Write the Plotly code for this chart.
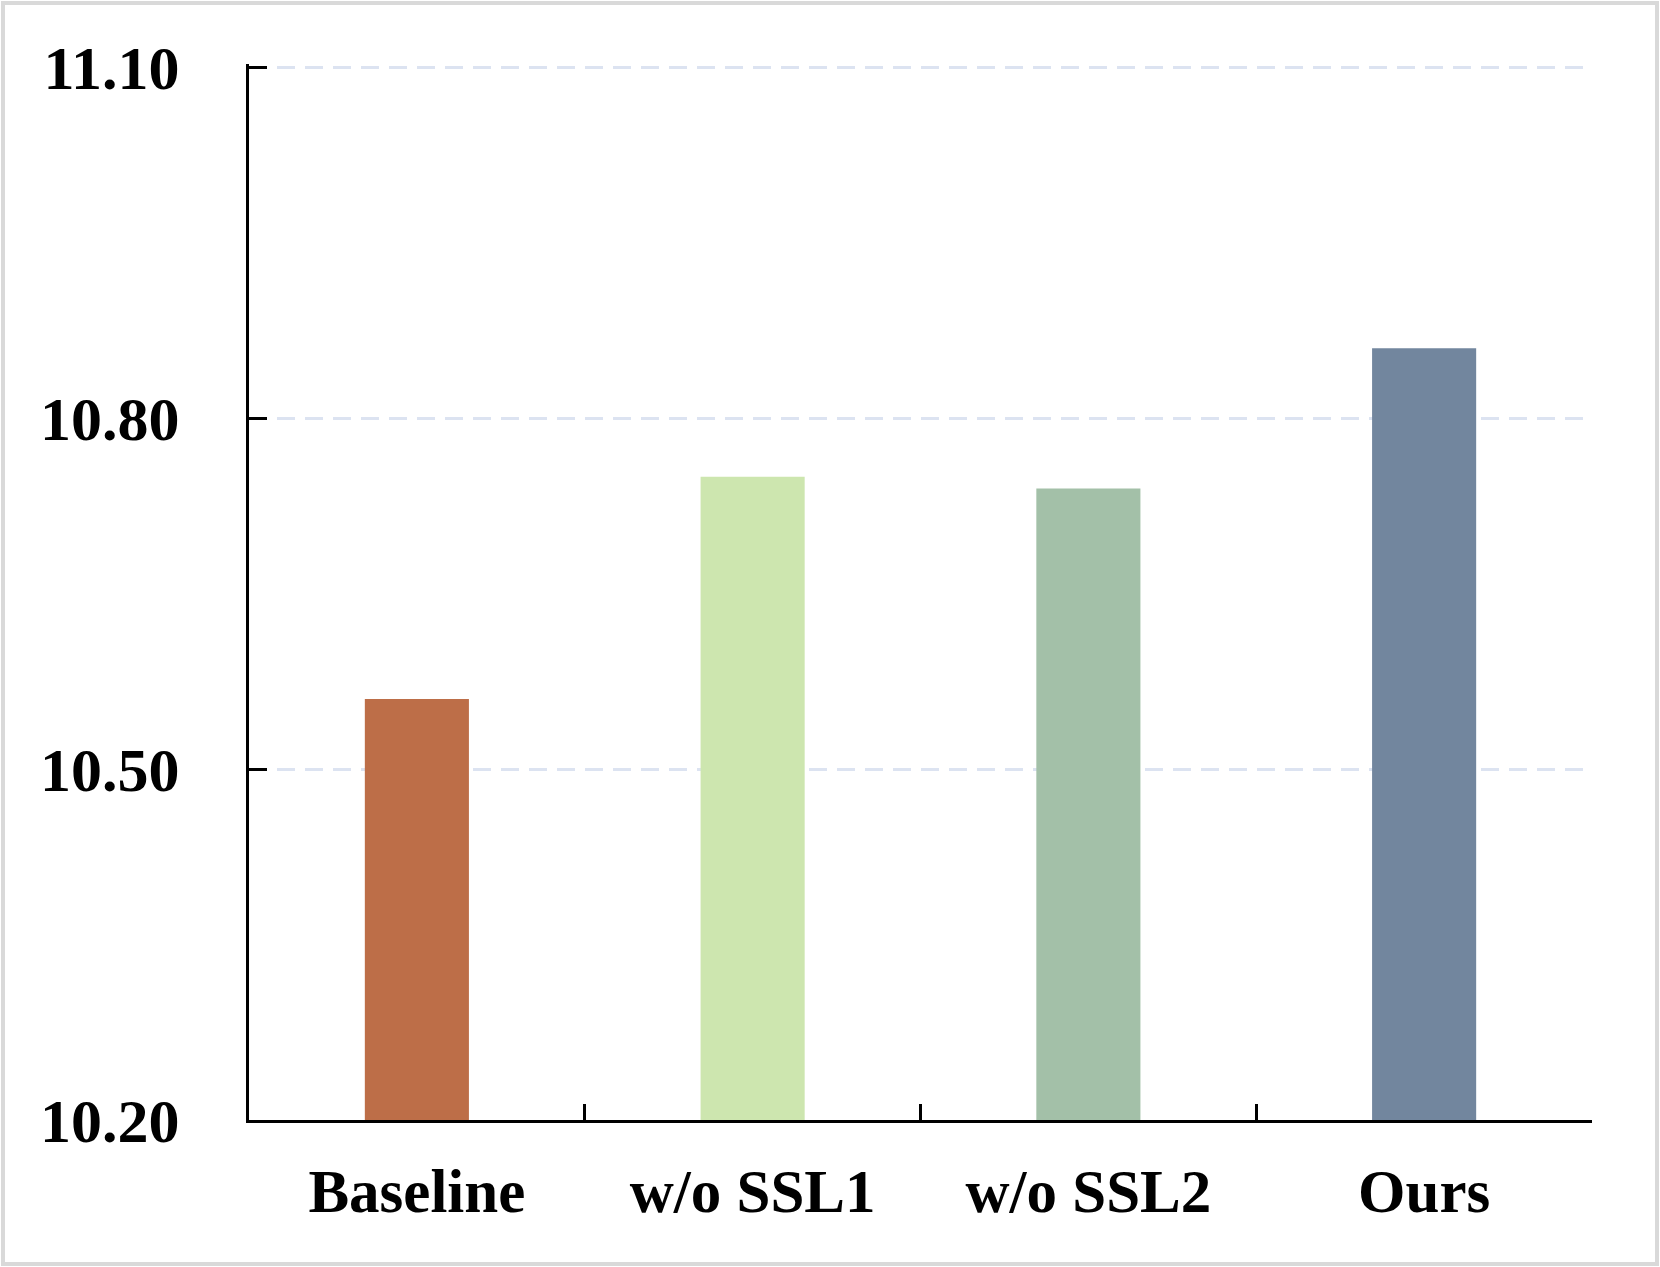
import plotly.graph_objects as go

categories = ["Baseline", "w/o SSL1", "w/o SSL2", "Ours"]
values = [10.56, 10.75, 10.74, 10.86]
colors = ["#BD6E48", "#CDE6AF", "#A3C0A8", "#72869E"]
y_ticks = [10.20, 10.50, 10.80, 11.10]
y_tick_labels = ["10.20", "10.50", "10.80", "11.10"]

W, H = 1660, 1267
ML, MR, MT, MB = 249, 68, 64, 147
PW, PH = W - ML - MR, H - MT - MB

fig = go.Figure()
fig.add_trace(go.Bar(x=categories, y=values, marker=dict(color=colors, line=dict(width=0)),
                     width=0.31, showlegend=False))

family = "Liberation Serif, Times New Roman, serif"

def px_to_paper_x(px):
    return (px - ML) / PW

def px_to_paper_y(py):
    return 1 - (py - MT) / PH

# outer light-gray border around the image
fig.add_shape(type="rect", xref="paper", yref="paper",
              x0=px_to_paper_x(3), x1=px_to_paper_x(W - 3),
              y0=px_to_paper_y(H - 3), y1=px_to_paper_y(3),
              line=dict(color="#D9D9D9", width=4), fillcolor="rgba(0,0,0,0)", layer="below")

fig.update_layout(
    width=W, height=H,
    margin=dict(l=ML, r=MR, t=MT, b=MB),
    paper_bgcolor="white", plot_bgcolor="white",
    font=dict(family=family, size=61, color="black"),
    xaxis=dict(
        type="category", showline=True, linecolor="black", linewidth=3,
        ticks="inside", tickson="boundaries", ticklen=16, tickwidth=2.5, tickcolor="black",
        showgrid=False, tickfont=dict(family=family, size=61, color="black", weight="bold"),
        ticklabelstandoff=16, range=[-0.5, 3.5],
    ),
    yaxis=dict(
        range=[10.2, 11.103], tickvals=y_ticks, ticktext=y_tick_labels,
        showline=True, linecolor="black", linewidth=3,
        ticks="inside", ticklen=18, tickwidth=3, tickcolor="black",
        showgrid=True, gridcolor="#DCE3F1", gridwidth=3, griddash="18px,10px",
        zeroline=False,
        tickfont=dict(family=family, size=62, color="black", weight="bold"),
        ticklabelstandoff=54,
    ),
)

fig.write_html("out.html", config={"displayModeBar": False},
               post_script="document.body.style.margin='0';")
